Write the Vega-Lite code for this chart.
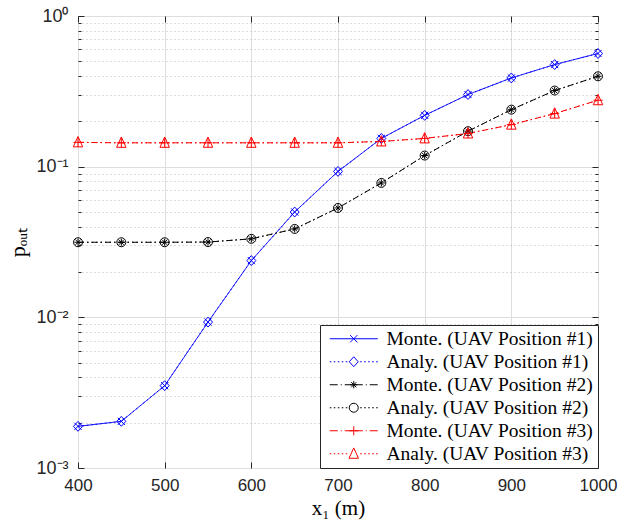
{
  "$schema": "https://vega.github.io/schema/vega-lite/v6.json",
  "width": 520,
  "height": 452,
  "autosize": {"type": "none"},
  "padding": {"left": 78, "top": 16, "right": 24, "bottom": 59},
  "background": "white",
  "config": {
    "view": {"stroke": "#262626", "strokeWidth": 1},
    "axis": {"domain": false}
  },
  "data": {
    "values": [
      {"x": 400, "s": "Monte. (UAV Position #1)", "p": 0.00189},
      {"x": 450, "s": "Monte. (UAV Position #1)", "p": 0.00204},
      {"x": 500, "s": "Monte. (UAV Position #1)", "p": 0.00352},
      {"x": 550, "s": "Monte. (UAV Position #1)", "p": 0.0093},
      {"x": 600, "s": "Monte. (UAV Position #1)", "p": 0.0238},
      {"x": 650, "s": "Monte. (UAV Position #1)", "p": 0.050},
      {"x": 700, "s": "Monte. (UAV Position #1)", "p": 0.093},
      {"x": 750, "s": "Monte. (UAV Position #1)", "p": 0.154},
      {"x": 800, "s": "Monte. (UAV Position #1)", "p": 0.219},
      {"x": 850, "s": "Monte. (UAV Position #1)", "p": 0.301},
      {"x": 900, "s": "Monte. (UAV Position #1)", "p": 0.388},
      {"x": 950, "s": "Monte. (UAV Position #1)", "p": 0.476},
      {"x": 1000, "s": "Monte. (UAV Position #1)", "p": 0.564},
      {"x": 400, "s": "Analy. (UAV Position #1)", "p": 0.00189},
      {"x": 450, "s": "Analy. (UAV Position #1)", "p": 0.00204},
      {"x": 500, "s": "Analy. (UAV Position #1)", "p": 0.00352},
      {"x": 550, "s": "Analy. (UAV Position #1)", "p": 0.0093},
      {"x": 600, "s": "Analy. (UAV Position #1)", "p": 0.0238},
      {"x": 650, "s": "Analy. (UAV Position #1)", "p": 0.050},
      {"x": 700, "s": "Analy. (UAV Position #1)", "p": 0.093},
      {"x": 750, "s": "Analy. (UAV Position #1)", "p": 0.154},
      {"x": 800, "s": "Analy. (UAV Position #1)", "p": 0.219},
      {"x": 850, "s": "Analy. (UAV Position #1)", "p": 0.301},
      {"x": 900, "s": "Analy. (UAV Position #1)", "p": 0.388},
      {"x": 950, "s": "Analy. (UAV Position #1)", "p": 0.476},
      {"x": 1000, "s": "Analy. (UAV Position #1)", "p": 0.564},
      {"x": 400, "s": "Monte. (UAV Position #2)", "p": 0.0315},
      {"x": 450, "s": "Monte. (UAV Position #2)", "p": 0.0315},
      {"x": 500, "s": "Monte. (UAV Position #2)", "p": 0.0315},
      {"x": 550, "s": "Monte. (UAV Position #2)", "p": 0.0316},
      {"x": 600, "s": "Monte. (UAV Position #2)", "p": 0.0332},
      {"x": 650, "s": "Monte. (UAV Position #2)", "p": 0.0386},
      {"x": 700, "s": "Monte. (UAV Position #2)", "p": 0.0532},
      {"x": 750, "s": "Monte. (UAV Position #2)", "p": 0.078},
      {"x": 800, "s": "Monte. (UAV Position #2)", "p": 0.1185},
      {"x": 850, "s": "Monte. (UAV Position #2)", "p": 0.172},
      {"x": 900, "s": "Monte. (UAV Position #2)", "p": 0.239},
      {"x": 950, "s": "Monte. (UAV Position #2)", "p": 0.320},
      {"x": 1000, "s": "Monte. (UAV Position #2)", "p": 0.398},
      {"x": 400, "s": "Analy. (UAV Position #2)", "p": 0.0315},
      {"x": 450, "s": "Analy. (UAV Position #2)", "p": 0.0315},
      {"x": 500, "s": "Analy. (UAV Position #2)", "p": 0.0315},
      {"x": 550, "s": "Analy. (UAV Position #2)", "p": 0.0316},
      {"x": 600, "s": "Analy. (UAV Position #2)", "p": 0.0332},
      {"x": 650, "s": "Analy. (UAV Position #2)", "p": 0.0386},
      {"x": 700, "s": "Analy. (UAV Position #2)", "p": 0.0532},
      {"x": 750, "s": "Analy. (UAV Position #2)", "p": 0.078},
      {"x": 800, "s": "Analy. (UAV Position #2)", "p": 0.1185},
      {"x": 850, "s": "Analy. (UAV Position #2)", "p": 0.172},
      {"x": 900, "s": "Analy. (UAV Position #2)", "p": 0.239},
      {"x": 950, "s": "Analy. (UAV Position #2)", "p": 0.320},
      {"x": 1000, "s": "Analy. (UAV Position #2)", "p": 0.398},
      {"x": 400, "s": "Monte. (UAV Position #3)", "p": 0.145},
      {"x": 450, "s": "Monte. (UAV Position #3)", "p": 0.144},
      {"x": 500, "s": "Monte. (UAV Position #3)", "p": 0.144},
      {"x": 550, "s": "Monte. (UAV Position #3)", "p": 0.144},
      {"x": 600, "s": "Monte. (UAV Position #3)", "p": 0.144},
      {"x": 650, "s": "Monte. (UAV Position #3)", "p": 0.144},
      {"x": 700, "s": "Monte. (UAV Position #3)", "p": 0.144},
      {"x": 750, "s": "Monte. (UAV Position #3)", "p": 0.147},
      {"x": 800, "s": "Monte. (UAV Position #3)", "p": 0.154},
      {"x": 850, "s": "Monte. (UAV Position #3)", "p": 0.166},
      {"x": 900, "s": "Monte. (UAV Position #3)", "p": 0.190},
      {"x": 950, "s": "Monte. (UAV Position #3)", "p": 0.225},
      {"x": 1000, "s": "Monte. (UAV Position #3)", "p": 0.276},
      {"x": 400, "s": "Analy. (UAV Position #3)", "p": 0.145},
      {"x": 450, "s": "Analy. (UAV Position #3)", "p": 0.144},
      {"x": 500, "s": "Analy. (UAV Position #3)", "p": 0.144},
      {"x": 550, "s": "Analy. (UAV Position #3)", "p": 0.144},
      {"x": 600, "s": "Analy. (UAV Position #3)", "p": 0.144},
      {"x": 650, "s": "Analy. (UAV Position #3)", "p": 0.144},
      {"x": 700, "s": "Analy. (UAV Position #3)", "p": 0.144},
      {"x": 750, "s": "Analy. (UAV Position #3)", "p": 0.147},
      {"x": 800, "s": "Analy. (UAV Position #3)", "p": 0.154},
      {"x": 850, "s": "Analy. (UAV Position #3)", "p": 0.166},
      {"x": 900, "s": "Analy. (UAV Position #3)", "p": 0.190},
      {"x": 950, "s": "Analy. (UAV Position #3)", "p": 0.225},
      {"x": 1000, "s": "Analy. (UAV Position #3)", "p": 0.276}
    ]
  },
  "resolve": {"axis": {"x": "independent", "y": "independent"}},
  "layer": [
    {
      "mark": {"type": "line", "strokeWidth": 1, "clip": true},
      "encoding": {
        "x": {
          "field": "x", "type": "quantitative",
          "scale": {"domain": [400, 1000], "nice": false, "zero": false},
          "axis": {
            "values": [400, 500, 600, 700, 800, 900, 1000],
            "format": "d",
            "grid": true, "gridColor": "#dedede", "gridWidth": 1,
            "ticks": true, "tickSize": -6, "tickColor": "#262626", "tickWidth": 1,
            "labelFont": "Liberation Sans", "labelFontSize": 17, "labelColor": "#262626",
            "labelPadding": 15, "labelOverlap": false, "labelFlush": false,
            "title": "x₁ (m)", "titleFont": "Liberation Serif", "titleFontSize": 21,
            "titleFontWeight": "normal", "titleColor": "#000000", "titlePadding": 4
          }
        },
        "y": {
          "field": "p", "type": "quantitative",
          "scale": {"type": "log", "domain": [0.001, 1], "nice": false},
          "axis": {
            "values": [0.001, 0.002, 0.003, 0.004, 0.005, 0.006, 0.007, 0.008, 0.009, 0.01, 0.02, 0.03, 0.04, 0.05, 0.06, 0.07, 0.08, 0.09, 0.1, 0.2, 0.3, 0.4, 0.5, 0.6, 0.7, 0.8, 0.9, 1],
            "labelExpr": "abs(datum.value-1)<1e-9 ? '10⁰' : abs(datum.value-0.1)<1e-9 ? '10⁻¹' : abs(datum.value-0.01)<1e-9 ? '10⁻²' : abs(datum.value-0.001)<1e-9 ? '10⁻³' : ''",
            "labelOverlap": false,
            "labelFont": "Liberation Sans", "labelFontSize": 18, "labelColor": "#262626",
            "labelPadding": 16,
            "grid": true,
            "gridColor": {"condition": {"test": "abs(log(datum.value)/LN10 - round(log(datum.value)/LN10)) < 1e-6", "value": "#dedede"}, "value": "#b8b8b8"},
            "gridDash": {"condition": {"test": "abs(log(datum.value)/LN10 - round(log(datum.value)/LN10)) < 1e-6", "value": []}, "value": [1, 3]},
            "ticks": true, "tickColor": "#262626", "tickWidth": 1,
            "tickSize": {"condition": {"test": "abs(log(datum.value)/LN10 - round(log(datum.value)/LN10)) < 1e-6", "value": -6}, "value": -3},
            "title": "pₒᵤₜ", "titleFont": "Liberation Serif", "titleFontSize": 22,
            "titleFontWeight": "normal", "titleColor": "#000000", "titlePadding": 6
          }
        },
        "color": {
          "field": "s", "type": "nominal",
          "scale": {
            "domain": ["Monte. (UAV Position #1)", "Analy. (UAV Position #1)", "Monte. (UAV Position #2)", "Analy. (UAV Position #2)", "Monte. (UAV Position #3)", "Analy. (UAV Position #3)"],
            "range": ["#0000ff", "#0000ff", "#000000", "#000000", "#ff0000", "#ff0000"]
          },
          "legend": {
            "title": null,
            "orient": "bottom-right",
            "offset": 0,
            "padding": 4,
            "rowPadding": 2,
            "labelFont": "Liberation Serif",
            "labelFontSize": 19.5,
            "labelColor": "#000000",
            "labelLimit": 0,
            "labelAlign": "left",
            "labelOffset": 43,
            "symbolSize": 64,
            "symbolStrokeWidth": 1,
            "strokeColor": "#262626",
            "fillColor": "#ffffff",
            "cornerRadius": 0,
            "encode": {
              "symbols": {
                "update": {
                  "fill": {"value": "transparent"},
                  "strokeDash": {"value": []},
                  "opacity": {"value": 1},
                  "shape": {"signal": "datum.value === 'Monte. (UAV Position #1)' ? 'M-1,0H11M4.1,-0.9L5.9,0.9M4.1,0.9L5.9,-0.9' : datum.value === 'Analy. (UAV Position #1)' ? 'M-1,0h0.4M0,0h0.4M1,0h0.4M2,0h0.4M3,0h0.4M6.6,0h0.4M7.6,0h0.4M8.6,0h0.4M9.6,0h0.4M10.6,0h0.4M5,-1.24L6.125,0L5,1.24L3.875,0Z' : datum.value === 'Monte. (UAV Position #2)' ? 'M-1,0H1M1.75,0H2M2.75,0H4.75M5.25,0H7.25M8,0H8.25M9,0H11M4.1,0H5.9M5,-0.9V0.9M4.36,-0.64L5.64,0.64M4.36,0.64L5.64,-0.64' : datum.value === 'Analy. (UAV Position #2)' ? 'M-1,0h0.4M0,0h0.4M1,0h0.4M2,0h0.4M3,0h0.4M6.6,0h0.4M7.6,0h0.4M8.6,0h0.4M9.6,0h0.4M10.6,0h0.4M6.125,0A1.125,1.125,0,1,1,3.875,0A1.125,1.125,0,1,1,6.125,0Z' : datum.value === 'Monte. (UAV Position #3)' ? 'M-1,0H1M1.75,0H2M2.75,0H4.75M5.25,0H7.25M8,0H8.25M9,0H11M3.875,0H6.125M5,-1.125V1.125' : 'M-1,0h0.4M0,0h0.4M1,0h0.4M2,0h0.4M3,0h0.4M6.6,0h0.4M7.6,0h0.4M8.6,0h0.4M9.6,0h0.4M10.6,0h0.4M5,-1.46L6.18,1.125L3.82,1.125Z'"}
                }
              }
            }
          }
        },
        "strokeDash": {
          "field": "s", "type": "nominal",
          "scale": {
            "domain": ["Analy. (UAV Position #3)", "Monte. (UAV Position #3)", "Analy. (UAV Position #2)", "Monte. (UAV Position #2)", "Analy. (UAV Position #1)", "Monte. (UAV Position #1)"],
            "range": [[1.5, 3], [6, 3, 1.5, 3], [1.5, 3], [6, 3, 1.5, 3], [1.5, 3], [1, 0]]
          },
          "legend": null
        }
      }
    },
    {
      "mark": {"type": "point", "filled": false, "size": 81, "strokeWidth": 1, "opacity": 1, "clip": false},
      "encoding": {
        "x": {
          "field": "x", "type": "quantitative",
          "axis": {
            "orient": "top", "values": [400, 500, 600, 700, 800, 900, 1000],
            "labels": false, "grid": false, "ticks": true, "tickSize": -6,
            "tickColor": "#262626", "title": null
          }
        },
        "y": {
          "field": "p", "type": "quantitative",
          "axis": {
            "orient": "right",
            "values": [0.001, 0.002, 0.003, 0.004, 0.005, 0.006, 0.007, 0.008, 0.009, 0.01, 0.02, 0.03, 0.04, 0.05, 0.06, 0.07, 0.08, 0.09, 0.1, 0.2, 0.3, 0.4, 0.5, 0.6, 0.7, 0.8, 0.9, 1],
            "labels": false, "grid": false, "ticks": true, "tickColor": "#262626",
            "tickSize": {"condition": {"test": "abs(log(datum.value)/LN10 - round(log(datum.value)/LN10)) < 1e-6", "value": -6}, "value": -3},
            "title": null
          }
        },
        "shape": {
          "field": "s", "type": "nominal",
          "scale": {
            "domain": ["Analy. (UAV Position #3)", "Monte. (UAV Position #3)", "Analy. (UAV Position #2)", "Monte. (UAV Position #2)", "Analy. (UAV Position #1)", "Monte. (UAV Position #1)"],
            "range": [
              "M0,-1.3L1.05,1L-1.05,1Z",
              "M-1,0H1M0,-1V1",
              "M1,0A1,1,0,1,1,-1,0A1,1,0,1,1,1,0Z",
              "M-0.8,0H0.8M0,-0.8V0.8M-0.57,-0.57L0.57,0.57M-0.57,0.57L0.57,-0.57",
              "M0,-1.1L1,0L0,1.1L-1,0Z",
              "M-0.8,-0.8L0.8,0.8M-0.8,0.8L0.8,-0.8"
            ]
          },
          "legend": null
        },
        "color": {"field": "s", "type": "nominal"}
      }
    }
  ]
}
